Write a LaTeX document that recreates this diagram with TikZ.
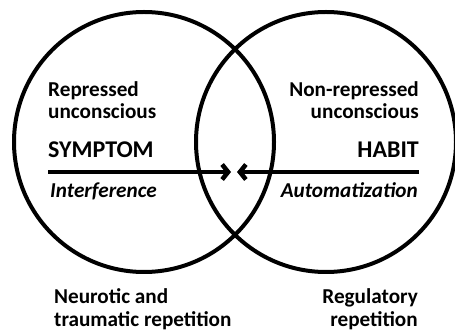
\documentclass[tikz,border=0pt]{standalone}
\usepackage{fontspec}
\setmainfont{Carlito}
\usetikzlibrary{arrows.meta}

\begin{document}
\begin{tikzpicture}[
    x=1pt, y=1pt,
    ring/.style={circle, draw, line width=4pt, minimum size=260pt, inner sep=0pt},
    label/.style={inner sep=0pt, font=\fontsize{21.2}{22}\selectfont\bfseries},
    italabel/.style={inner sep=0pt, font=\fontsize{21.2}{22}\selectfont\bfseries\itshape},
    bigword/.style={inner sep=0pt, font=\fontsize{24}{26}\selectfont\bfseries},
    arrow/.style={line width=4.5pt, -{Straight Barb[length=6pt, width=15pt]}}
]
\useasboundingbox (0,0) rectangle (455,332);

% Kreise
\node[ring] (left) at (144,190) {};
\node[ring] (right) at (326,190) {};

% Linke Seite
\node[label, anchor=base west, align=left] (repr) at (48,213) {Repressed\\unconscious};
\node[bigword, anchor=base west] (symptom) at (48,174) {SYMPTOM};
\node[italabel, anchor=base west] (interf) at (50,134) {Interference};

% Rechte Seite
\node[label, anchor=base east, align=right] (nonrepr) at (419,213) {Non-repressed\\unconscious};
\node[bigword, anchor=base east] (habit) at (419,174) {HABIT};
\node[italabel, anchor=base east] (autom) at (418,134) {Automatization};

% Unten
\node[label, anchor=base west, align=left] (neuro) at (54,6) {Neurotic and\\traumatic repetition};
\node[label, anchor=base east, align=right] (regul) at (418,6) {Regulatory\\repetition};

% Pfeile
\coordinate (symstart) at (48,160);
\coordinate (symtip) at (231,160);
\coordinate (habstart) at (419,160);
\coordinate (habtip) at (237,160);
\draw[arrow] (symstart) -- (symtip);
\draw[arrow] (habstart) -- (habtip);

\end{tikzpicture}
\end{document}
